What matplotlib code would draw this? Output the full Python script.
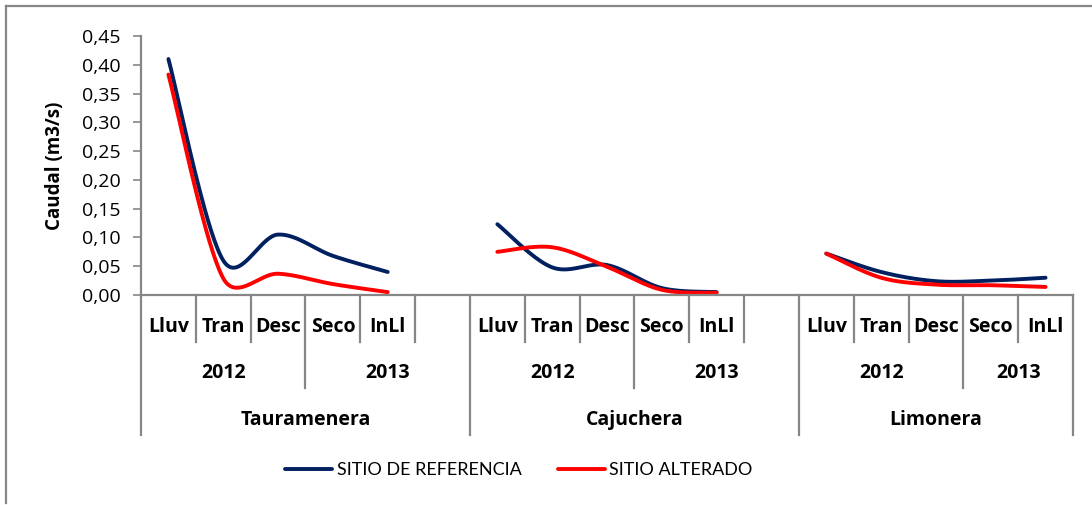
import numpy as np
import matplotlib.pyplot as plt
from matplotlib.lines import Line2D
from matplotlib.ticker import FuncFormatter

plt.rcParams['font.family'] = ['Open Sans', 'DejaVu Sans']

sitios = ["Tauramenera", "Cajuchera", "Limonera"]
epocas = ["Lluv", "Tran", "Desc", "Seco", "InLl"]
anios = ["2012", "2013"]
# valores por sitio (Lluv, Tran, Desc, Seco, InLl)
referencia = [
    [0.41, 0.060, 0.105, 0.068, 0.040],
    [0.123, 0.048, 0.052, 0.012, 0.005],
    [0.072, 0.040, 0.024, 0.025, 0.030],
]
alterado = [
    [0.383, 0.029, 0.037, 0.019, 0.005],
    [0.075, 0.083, 0.049, 0.009, 0.004],
    [0.072, 0.030, 0.018, 0.017, 0.014],
]

gris = "#868686"
azul = "#002060"
rojo = "#ff0000"

W, H = 1092, 505
x0, x1, ytop, ybot = 141, 1073, 36, 295
n_slots = 6 * len(sitios) - 1
sx = (x1 - x0) / n_slots          # px por categoria
sy = (ybot - ytop) / 0.45         # px por unidad


def suavizar(x, y, n=40):
    # suavizado al estilo excel, calculado en pixeles
    P = np.column_stack([np.asarray(x, float) * sx, np.asarray(y, float) * sy])
    P = np.vstack([P[0], P, P[-1]])
    t = np.linspace(0, 1, n)[:, None]
    out = []
    for i in range(1, len(P) - 2):
        p0, p1, p2, p3 = P[i - 1], P[i], P[i + 1], P[i + 2]
        d12 = np.hypot(*(p2 - p1))
        d02 = np.hypot(*(p2 - p0))
        d13 = np.hypot(*(p3 - p1))
        f0 = d12 / d02 / 2 if d02 / 6 >= d12 / 2 else 1 / 6
        f1 = d12 / d13 / 2 if d13 / 6 >= d12 / 2 else 1 / 6
        c1 = p1 + (p2 - p0) * f0
        c2 = p2 - (p3 - p1) * f1
        b = (1 - t) ** 3 * p1 + 3 * (1 - t) ** 2 * t * c1 + 3 * (1 - t) * t ** 2 * c2 + t ** 3 * p2
        out.append(b)
    b = np.vstack(out)
    return b[:, 0] / sx, b[:, 1] / sy


fig = plt.figure(figsize=(10.92, 5.05), dpi=100)
ax = fig.add_axes([x0 / W, (H - ybot) / H, (x1 - x0) / W, (ybot - ytop) / H])

for g in range(len(sitios)):
    xs = [6 * g + i + 0.5 for i in range(len(epocas))]
    cx, cy = suavizar(xs, referencia[g])
    ax.plot(cx, cy, color=azul, lw=2.8, solid_capstyle='round',
            label="SITIO DE REFERENCIA" if g == 0 else None)
    cx, cy = suavizar(xs, alterado[g])
    ax.plot(cx, cy, color=rojo, lw=2.8, solid_capstyle='round',
            label="SITIO ALTERADO" if g == 0 else None)

ax.set_xlim(0, n_slots)
ax.set_ylim(0, 0.45)
ax.set_yticks(np.arange(0, 0.451, 0.05))
ax.yaxis.set_major_formatter(FuncFormatter(lambda v, p: f"{v:.2f}".replace(".", ",")))
ax.tick_params(axis='y', direction='out', length=5.8, width=1.2, color=gris,
               labelsize=14, pad=9)
ax.set_xticks([])
for s in ['top', 'right']:
    ax.spines[s].set_visible(False)
for s in ['left', 'bottom']:
    ax.spines[s].set_color(gris)
    ax.spines[s].set_linewidth(1.6)
ax.set_ylabel("Caudal (m3/s)", fontsize=13.5, fontweight='bold')
ax.yaxis.set_label_coords(-(x0 - 65) / (x1 - x0), 0.5)

# eje de categorias en varios niveles
tr = ax.get_xaxis_transform()
y1, y2, y3 = -0.181, -0.359, -0.541
for k in range(n_slots + 1):
    pos = k % 6
    if pos == 0 or k == n_slots:
        yb = y3
    elif pos == 3:
        yb = y2
    else:
        yb = y1
    ax.plot([k, k], [0, yb], transform=tr, color=gris, lw=1.6, clip_on=False)

fs = 14
for g, sitio in enumerate(sitios):
    for i, ep in enumerate(epocas):
        ax.text(6 * g + i + 0.5, -0.124, ep, transform=tr, ha='center', va='center',
                fontsize=fs, fontweight='bold')
    fin = 6 * g + (6 if g < len(sitios) - 1 else 5)
    ax.text(6 * g + 1.5, -0.301, anios[0], transform=tr, ha='center', va='center',
            fontsize=fs, fontweight='bold')
    ax.text((6 * g + 3 + fin) / 2, -0.301, anios[1], transform=tr, ha='center',
            va='center', fontsize=fs, fontweight='bold')
    ax.text((6 * g + fin) / 2, -0.483, sitio, transform=tr, ha='center', va='center',
            fontsize=fs, fontweight='bold')

fig.legend(loc='center', bbox_to_anchor=(519 / W, 1 - 470 / H), ncol=2, frameon=False,
           prop={'family': ['Lato', 'DejaVu Sans'], 'size': 13},
           handlelength=2.6, handletextpad=0.25, columnspacing=2.0)

# marco exterior
fig.add_artist(Line2D([6 / W, 6 / W], [1 - 503 / H, 1 - 6 / H], color=gris, lw=1.6))
fig.add_artist(Line2D([6 / W, 1], [1 - 6 / H, 1 - 6 / H], color=gris, lw=1.6))

fig.savefig("out.png", dpi=100)
